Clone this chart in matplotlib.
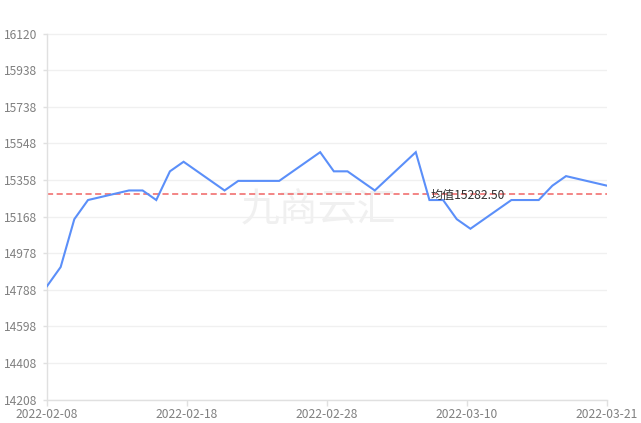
import matplotlib
matplotlib.use("Agg")
import matplotlib.dates as mdates
import matplotlib.pyplot as plt
import numpy as np
import pandas as pd

plt.rcParams["font.family"] = ["Noto Sans CJK SC", "DejaVu Sans"]

# trading days and prices
dates = [
    "2022-02-08", "2022-02-09", "2022-02-10", "2022-02-11",
    "2022-02-14", "2022-02-15", "2022-02-16", "2022-02-17", "2022-02-18",
    "2022-02-21", "2022-02-22", "2022-02-23", "2022-02-24", "2022-02-25",
    "2022-02-28", "2022-03-01", "2022-03-02", "2022-03-03", "2022-03-04",
    "2022-03-07", "2022-03-08", "2022-03-09", "2022-03-10", "2022-03-11",
    "2022-03-14", "2022-03-15", "2022-03-16", "2022-03-17", "2022-03-18",
    "2022-03-21",
]
prices = [
    14800, 14900, 15150, 15250,
    15300, 15300, 15250, 15400, 15450,
    15300, 15350, 15350, 15350, 15350,
    15500, 15400, 15400, 15350, 15300,
    15500, 15250, 15250, 15150, 15100,
    15250, 15250, 15250, 15325, 15375,
    15325,
]
mean_value = 15282.50
y_min, y_max = 14208, 16120
y_tick_labels = ["14208", "14408", "14598", "14788", "14978", "15168",
                 "15358", "15548", "15738", "15938", "16120"]
x_tick_labels = ["2022-02-08", "2022-02-18", "2022-02-28", "2022-03-10", "2022-03-21"]
label_date = "2022-03-08"
watermark = "九商云汇"

x = mdates.date2num(pd.to_datetime(dates))

fig = plt.figure(figsize=(6.41, 4.23), dpi=100)
ax = fig.add_axes([47 / 641, 23.5 / 423, 560 / 641, 366 / 423])

label_color = "#808080"
axis_color = "#e0e0e0"

ax.plot(x, prices, color="#5B8FF9", lw=1.5, zorder=3, solid_joinstyle="miter")
ax.axhline(mean_value, color="#f06464", lw=1.1, linestyle=(0, (4, 2.3)), zorder=2)
ax.annotate(f"均值{mean_value:.2f}",
            (mdates.date2num(pd.Timestamp(label_date)) + 0.1, mean_value),
            xytext=(0, -1.5), textcoords="offset points",
            ha="left", va="center", fontsize=8.7, color="#333333", zorder=4)

ax.text(318 / 641, 1 - 210 / 423, watermark, transform=fig.transFigure,
        ha="center", va="center", fontsize=28, color="#f0f0f0", zorder=1)

ax.set_xlim(x[0], x[-1])
ax.set_ylim(y_min, y_max)
ax.set_xticks(np.linspace(x[0], x[-1], len(x_tick_labels)))
ax.set_xticklabels(x_tick_labels)
ax.set_yticks(np.linspace(y_min, y_max, len(y_tick_labels)))
ax.set_yticklabels(y_tick_labels)

ax.yaxis.grid(True, color="#f0f0f0", lw=1, zorder=0)
ax.set_axisbelow(True)
for side in ["top", "right"]:
    ax.spines[side].set_visible(False)
for side in ["left", "bottom"]:
    ax.spines[side].set_color(axis_color)
    ax.spines[side].set_linewidth(1)

ax.tick_params(axis="x", length=4, width=1, color=axis_color, labelcolor=label_color,
               labelsize=8.7, pad=2)
ax.tick_params(axis="y", length=3, width=1, color=axis_color, labelcolor=label_color,
               labelsize=8.7, pad=4)

fig.savefig("out.png", dpi=100)
